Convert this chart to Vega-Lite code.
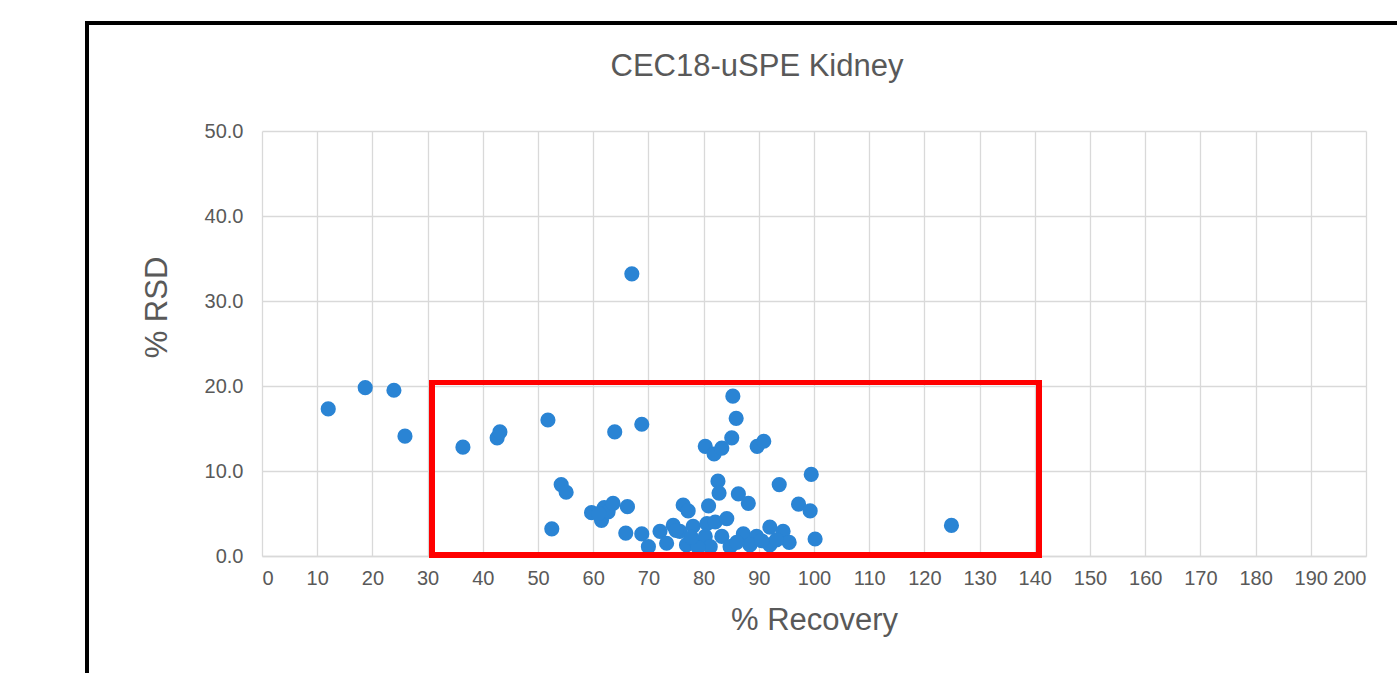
{
  "$schema": "https://vega.github.io/schema/vega-lite/v6.json",
  "autosize": "none",
  "width": 1104,
  "height": 425,
  "padding": {"left": 262, "top": 131, "right": 31, "bottom": 117},
  "background": "white",
  "title": {
    "text": "CEC18-uSPE Kidney",
    "fontSize": 31,
    "font": "Liberation Sans",
    "fontWeight": "normal",
    "color": "#595959",
    "anchor": "middle",
    "baseline": "alphabetic",
    "dx": -57,
    "offset": -85
  },
  "config": {
    "view": {"stroke": null},
    "font": "Liberation Sans"
  },
  "data": {
    "values": [
      {"recovery": 12.0, "rsd": 17.3},
      {"recovery": 18.7, "rsd": 19.8},
      {"recovery": 23.9, "rsd": 19.5},
      {"recovery": 25.9, "rsd": 14.1},
      {"recovery": 36.4, "rsd": 12.8},
      {"recovery": 42.6, "rsd": 13.9},
      {"recovery": 43.1, "rsd": 14.6},
      {"recovery": 51.8, "rsd": 16.0},
      {"recovery": 52.5, "rsd": 3.2},
      {"recovery": 54.2, "rsd": 8.4},
      {"recovery": 55.1, "rsd": 7.5},
      {"recovery": 63.9, "rsd": 14.6},
      {"recovery": 68.8, "rsd": 15.5},
      {"recovery": 67.0, "rsd": 33.2},
      {"recovery": 85.3, "rsd": 18.8},
      {"recovery": 85.9, "rsd": 16.2},
      {"recovery": 80.3, "rsd": 12.9},
      {"recovery": 81.9, "rsd": 12.0},
      {"recovery": 83.3, "rsd": 12.7},
      {"recovery": 85.1, "rsd": 13.9},
      {"recovery": 89.7, "rsd": 12.9},
      {"recovery": 90.9, "rsd": 13.5},
      {"recovery": 82.6, "rsd": 8.8},
      {"recovery": 82.8, "rsd": 7.4},
      {"recovery": 86.3, "rsd": 7.3},
      {"recovery": 88.1, "rsd": 6.2},
      {"recovery": 93.7, "rsd": 8.4},
      {"recovery": 99.5, "rsd": 9.6},
      {"recovery": 97.2, "rsd": 6.1},
      {"recovery": 99.3, "rsd": 5.3},
      {"recovery": 100.2, "rsd": 2.0},
      {"recovery": 124.9, "rsd": 3.6},
      {"recovery": 59.7, "rsd": 5.1},
      {"recovery": 61.5, "rsd": 4.2},
      {"recovery": 62.0, "rsd": 5.7},
      {"recovery": 62.7, "rsd": 5.2},
      {"recovery": 63.6, "rsd": 6.2},
      {"recovery": 66.2, "rsd": 5.8},
      {"recovery": 65.9, "rsd": 2.7},
      {"recovery": 68.8, "rsd": 2.6},
      {"recovery": 70.0, "rsd": 1.1},
      {"recovery": 72.1, "rsd": 2.9},
      {"recovery": 73.3, "rsd": 1.5},
      {"recovery": 74.5, "rsd": 3.6},
      {"recovery": 76.3, "rsd": 6.0},
      {"recovery": 77.2, "rsd": 5.3},
      {"recovery": 75.7, "rsd": 2.9},
      {"recovery": 78.1, "rsd": 3.5},
      {"recovery": 76.9, "rsd": 1.3},
      {"recovery": 78.8, "rsd": 1.5},
      {"recovery": 80.9, "rsd": 5.9},
      {"recovery": 80.6, "rsd": 3.8},
      {"recovery": 82.1, "rsd": 4.0},
      {"recovery": 84.2, "rsd": 4.4},
      {"recovery": 80.3, "rsd": 2.3},
      {"recovery": 83.3, "rsd": 2.3},
      {"recovery": 87.2, "rsd": 2.6},
      {"recovery": 89.6, "rsd": 2.3},
      {"recovery": 92.0, "rsd": 3.4},
      {"recovery": 94.4, "rsd": 2.9},
      {"recovery": 95.5, "rsd": 1.6},
      {"recovery": 81.2, "rsd": 1.1},
      {"recovery": 84.8, "rsd": 1.1},
      {"recovery": 88.4, "rsd": 1.3},
      {"recovery": 92.0, "rsd": 1.3},
      {"recovery": 93.2, "rsd": 1.9},
      {"recovery": 79.0, "rsd": 1.0},
      {"recovery": 86.0, "rsd": 1.6},
      {"recovery": 90.5, "rsd": 1.8},
      {"recovery": 77.8, "rsd": 2.2},
      {"recovery": 61.0, "rsd": 5.0},
      {"recovery": 75.0, "rsd": 3.0}
    ]
  },
  "layer": [
    {
      "mark": {"type": "rect", "fill": null, "stroke": "black", "strokeWidth": 2.5, "clip": false},
      "encoding": {
        "x": {"datum": -31.7, "type": "quantitative"},
        "x2": {"datum": 215},
        "y": {"datum": -20, "type": "quantitative"},
        "y2": {"datum": 62.7}
      }
    },
    {
      "mark": {"type": "point", "filled": true, "opacity": 1, "size": 230, "color": "#2a84d4"},
      "encoding": {
        "x": {
          "field": "recovery",
          "type": "quantitative",
          "scale": {"domain": [0, 200], "nice": false, "zero": false},
          "axis": {
            "title": "% Recovery",
            "values": [0,10,20,30,40,50,60,70,80,90,100,110,120,130,140,150,160,170,180,190,200],
            "format": "d",
            "grid": true,
            "gridColor": "#d9d9d9",
            "gridWidth": 1.3,
            "domainColor": "#d9d9d9",
            "domainWidth": 1.3,
            "ticks": false,
            "labelFontSize": 20,
            "labelColor": "#595959",
            "labelPadding": 12,
            "labelFont": "Liberation Sans",
            "titleFont": "Liberation Sans",
            "titleFontSize": 31,
            "titleFontWeight": "normal",
            "titleColor": "#595959",
            "titleBaseline": "alphabetic",
            "titleY": 73
          }
        },
        "y": {
          "field": "rsd",
          "type": "quantitative",
          "scale": {"domain": [0, 50], "nice": false},
          "axis": {
            "title": "% RSD",
            "values": [0, 10, 20, 30, 40, 50],
            "format": ".1f",
            "grid": true,
            "gridColor": "#d9d9d9",
            "gridWidth": 1.3,
            "domain": false,
            "ticks": false,
            "labelFontSize": 20,
            "labelColor": "#595959",
            "labelPadding": 19,
            "labelFont": "Liberation Sans",
            "titleFont": "Liberation Sans",
            "titleFontSize": 31,
            "titleFontWeight": "normal",
            "titleColor": "#595959",
            "titleAngle": -90,
            "titleAlign": "center",
            "titleBaseline": "alphabetic",
            "titleX": -96,
            "titleY": 176
          }
        }
      }
    },
    {
      "mark": {"type": "rect", "fill": null, "stroke": "#ff0000", "strokeWidth": 5},
      "encoding": {
        "x": {"datum": 30.8, "type": "quantitative"},
        "x2": {"datum": 140.8},
        "y": {"datum": 0.1, "type": "quantitative"},
        "y2": {"datum": 20.4}
      }
    }
  ]
}
